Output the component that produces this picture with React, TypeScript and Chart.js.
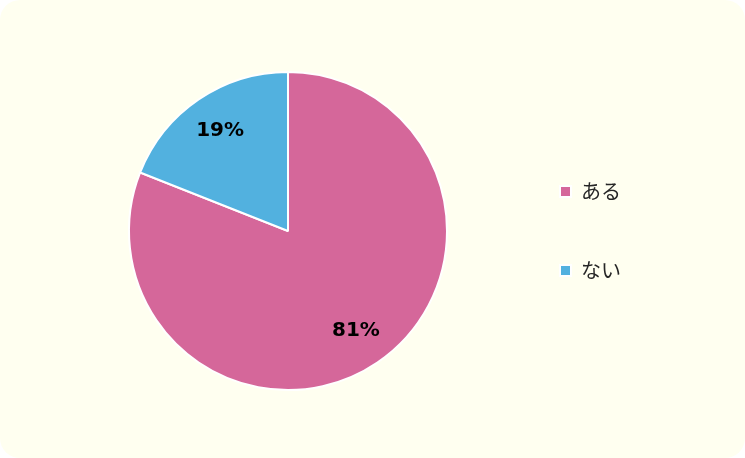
import React, { useEffect, useRef } from "react";
import { Chart, registerables } from "chart.js";

Chart.register(...registerables);

const categories = ["ある", "ない"];
const values = [81, 19];
const colors = ["#D5679A", "#52B1DF"];

const labelPlugin = {
  id: "pctLabels",
  afterDatasetsDraw(chart: any) {
    const ctx = chart.ctx;
    const meta = chart.getDatasetMeta(0);
    ctx.save();
    ctx.font = "bold 20px 'DejaVu Sans', Verdana, sans-serif";
    ctx.fillStyle = "#000000";
    ctx.textAlign = "center";
    ctx.textBaseline = "middle";
    meta.data.forEach((arc: any, i: number) => {
      const p = arc.getProps(["x", "y", "startAngle", "endAngle", "outerRadius"], true);
      const mid = (p.startAngle + p.endAngle) / 2;
      const r = p.outerRadius * 0.76;
      ctx.fillText(values[i] + "%", p.x + Math.cos(mid) * r, p.y + Math.sin(mid) * r);
    });
    ctx.restore();
  },
};

export default function App() {
  const ref = useRef<HTMLCanvasElement | null>(null);
  useEffect(() => {
    if (!ref.current) return;
    const chart = new Chart(ref.current, {
      type: "pie",
      data: {
        labels: categories,
        datasets: [
          {
            data: values,
            backgroundColor: colors,
            borderColor: "#FFFFFF",
            borderWidth: 2,
          },
        ],
      },
      options: {
        animation: false,
        responsive: false,
        maintainAspectRatio: false,
        layout: { padding: { left: 75, right: 114, top: 71, bottom: 67 } },
        plugins: {
          tooltip: { enabled: false },
          legend: {
            position: "right",
            align: "center",
            labels: {
              boxWidth: 11,
              boxHeight: 11,
              padding: 59,
              color: "#262626",
              font: { family: "'Noto Sans CJK JP', sans-serif", size: 20 },
            },
          },
        },
      },
      plugins: [labelPlugin],
    });
    return () => chart.destroy();
  }, []);
  return (
    <div
      style={{
        position: "fixed",
        left: 0,
        top: 0,
        width: 745,
        height: 458,
        background: "#FFFFFF",
      }}
    >
      <div
        style={{
          position: "absolute",
          inset: 0,
          borderRadius: 20,
          background: "#FFFFF0",
        }}
      >
        <canvas ref={ref} width={745} height={458} style={{ display: "block" }} />
      </div>
    </div>
  );
}
